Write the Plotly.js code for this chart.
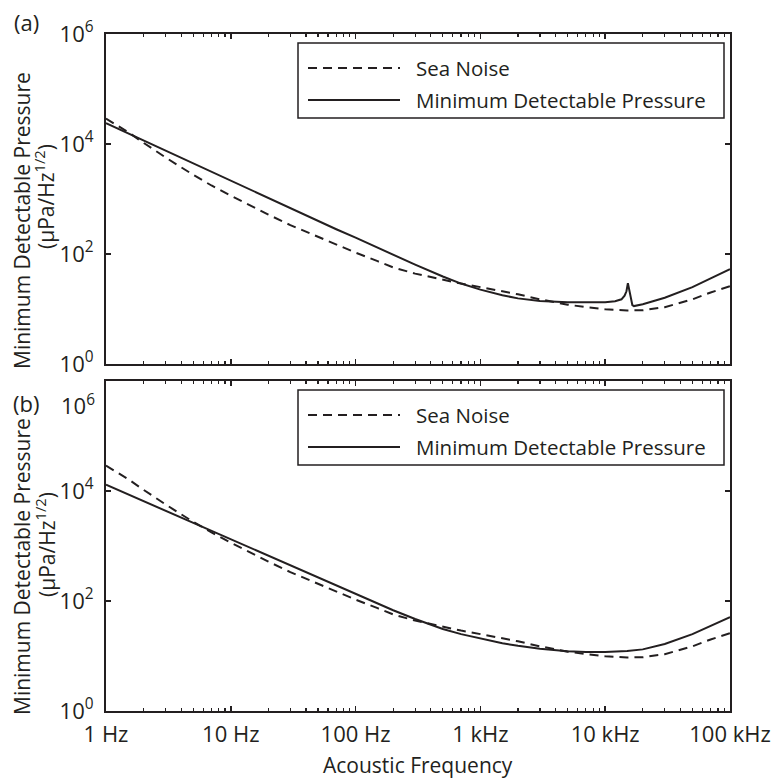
<!DOCTYPE html>
<html><head><meta charset="utf-8">
<script src="https://cdn.plot.ly/plotly-3.0.1.min.js"></script>
<style>html,body{margin:0;padding:0;background:#fff}</style>
</head><body><div id="chart" style="width:771px;height:778px"></div>
<script>
// ---- data ----
const freqB = [1, 1.5, 2, 3, 5, 7, 10, 15, 20, 30, 50, 70, 100, 150, 200, 300, 500, 700, 1000, 1500, 2000, 3000, 5000, 7000, 10000, 15000, 20000, 30000, 50000, 70000, 100000];
const seaNoise = [29000, 16500, 10500, 5700, 2750, 1760, 1150, 720, 520, 335, 205, 148, 106, 74, 57, 44, 34, 29, 25, 21, 18.5, 15, 12, 10.8, 9.9, 9.4, 9.5, 10.8, 15, 20, 26];
const mdpB = [13000, 8700, 6500, 4350, 2600, 1860, 1300, 870, 650, 435, 262, 188, 132, 89, 68, 47, 31, 25, 21, 17, 15.3, 13.5, 12.2, 11.8, 11.8, 12.3, 13.2, 16.5, 25, 35, 51];
const freqA = [1, 1.5, 2, 3, 5, 7, 10, 15, 20, 30, 50, 70, 100, 150, 200, 300, 500, 700, 1000, 1500, 2000, 3000, 5000, 7000, 10000, 12000, 13500, 14300, 14800, 15200, 15600, 16000, 16500, 17000, 18000, 20000, 30000, 50000, 70000, 100000];
const mdpA = [24000, 15700, 11600, 7550, 4400, 3100, 2150, 1410, 1040, 680, 400, 282, 198, 130, 96, 64, 39, 29, 22.5, 17.8, 15.6, 14, 13.2, 13.1, 13.3, 13.8, 15, 17.5, 21, 29.5, 22, 15, 11.8, 11.3, 11.5, 12.2, 16, 25, 36, 53];

const xTickVals = [1, 10, 100, 1000, 10000, 100000];
const xTickText = ['1 Hz', '10 Hz', '100 Hz', '1 kHz', '10 kHz', '100 kHz'];
const yTickValsA = [1, 100, 1e4, 1e6];
const yTickTextA = ['10<sup>0</sup>', '10<sup>2</sup>', '10<sup>4</sup>', '10<sup>6</sup>'];
const yTickValsB = [1, 100, 1e4];
const yTickTextB = ['10<sup>0</sup>', '10<sup>2</sup>', '10<sup>4</sup>'];
const yTopLabelB = '10<sup>6</sup>';
const seriesNames = ['Sea Noise', 'Minimum Detectable Pressure'];
const panelLabels = ['(a)', '(b)'];
const yTitleLines = ['Minimum Detectable Pressure', '(\u00b5Pa/Hz<sup>1/2</sup>)'];
const xTitle = 'Acoustic Frequency';

// ---- styling ----
const ink = '#231f20';
const FONT = 'Open Sans, Noto Sans, sans-serif';
const FS = 21;
const W = 771, H = 778, ML = 106, MR = 41, MT = 34, MB = 67;
const PW = W - ML - MR, PH = H - MT - MB;
const px = x => (x - ML) / PW;
const py = y => (H - MB - y) / PH;
const dashStyle = '9px,6px';

const traces = [
  {x: freqB, y: seaNoise, xaxis: 'x', yaxis: 'y', name: seriesNames[0], mode: 'lines', line: {color: ink, width: 2, dash: dashStyle}, showlegend: false},
  {x: freqA, y: mdpA, xaxis: 'x', yaxis: 'y', name: seriesNames[1], mode: 'lines', line: {color: ink, width: 2}, showlegend: false},
  {x: freqB, y: seaNoise, xaxis: 'x2', yaxis: 'y2', name: seriesNames[0], mode: 'lines', line: {color: ink, width: 2, dash: dashStyle}, showlegend: false},
  {x: freqB, y: mdpB, xaxis: 'x2', yaxis: 'y2', name: seriesNames[1], mode: 'lines', line: {color: ink, width: 2}, showlegend: false}
];

const yTopA = 34, yBotA = 364, yTopB = 381, yBotB = 711;
const xAxisBase = {
  type: 'log', range: [0, 5], showline: true, linecolor: ink, linewidth: 2, mirror: 'ticks',
  ticks: 'inside', ticklen: 5, tickwidth: 1.5, tickcolor: ink, showgrid: false, zeroline: false,
  tickmode: 'array', tickvals: xTickVals, ticktext: xTickText,
  minor: {ticks: 'inside', ticklen: 3, tickwidth: 1.2, tickcolor: ink, dtick: 'D1', showgrid: false},
  tickfont: {family: FONT, size: 22, color: ink}
};
const yAxisBase = {
  type: 'log', range: [0, 6], showline: true, linecolor: ink, linewidth: 2, mirror: 'ticks',
  ticks: 'inside', ticklen: 5, tickwidth: 1.5, tickcolor: ink, showgrid: false, zeroline: false,
  tickmode: 'array', tickfont: {family: FONT, size: 22, color: ink}, ticklabelstandoff: 6
};

const annFont = {family: FONT, size: FS, color: ink};
const tickLikeFont = {family: FONT, size: 22, color: ink};
const annotations = [
  {xref: 'paper', yref: 'paper', x: px(26), y: py(22), text: panelLabels[0], showarrow: false, xanchor: 'center', yanchor: 'middle', font: tickLikeFont},
  {xref: 'paper', yref: 'paper', x: px(26), y: py(403), text: panelLabels[1], showarrow: false, xanchor: 'center', yanchor: 'middle', font: tickLikeFont},
  {xref: 'paper', yref: 'paper', x: px(97), y: py(404), text: yTopLabelB, showarrow: false, xanchor: 'right', yanchor: 'middle', font: tickLikeFont},
  {xref: 'paper', yref: 'paper', x: px(22), y: py(221), text: yTitleLines[0], textangle: -90, showarrow: false, xanchor: 'center', yanchor: 'middle', font: annFont},
  {xref: 'paper', yref: 'paper', x: px(45), y: py(197), text: yTitleLines[1], textangle: -90, showarrow: false, xanchor: 'center', yanchor: 'middle', font: annFont},
  {xref: 'paper', yref: 'paper', x: px(22), y: py(567), text: yTitleLines[0], textangle: -90, showarrow: false, xanchor: 'center', yanchor: 'middle', font: annFont},
  {xref: 'paper', yref: 'paper', x: px(45), y: py(545), text: yTitleLines[1], textangle: -90, showarrow: false, xanchor: 'center', yanchor: 'middle', font: annFont},
  {xref: 'paper', yref: 'paper', x: 0.5, y: py(765), text: xTitle, showarrow: false, xanchor: 'center', yanchor: 'middle', font: annFont}
];

const shapes = [];
// manual legends, one per panel
function addLegend(top, bottom, row1, row2) {
  shapes.push({type: 'rect', xref: 'paper', yref: 'paper', x0: px(298), x1: px(724), y0: py(bottom), y1: py(top), line: {color: ink, width: 1.5}, fillcolor: '#ffffff', layer: 'above'});
  shapes.push({type: 'line', xref: 'paper', yref: 'paper', x0: px(308), x1: px(400), y0: py(row1), y1: py(row1), line: {color: ink, width: 2, dash: dashStyle}, layer: 'above'});
  shapes.push({type: 'line', xref: 'paper', yref: 'paper', x0: px(308), x1: px(400), y0: py(row2), y1: py(row2), line: {color: ink, width: 2}, layer: 'above'});
  annotations.push({xref: 'paper', yref: 'paper', x: px(414), y: py(row1), text: seriesNames[0], showarrow: false, xanchor: 'left', yanchor: 'middle', font: {family: FONT, size: 20.5, color: ink}});
  annotations.push({xref: 'paper', yref: 'paper', x: px(414), y: py(row2), text: seriesNames[1], showarrow: false, xanchor: 'left', yanchor: 'middle', font: {family: FONT, size: 20.5, color: ink}});
}
addLegend(43, 118, 68, 100);
addLegend(390, 465, 415, 447);

const layout = {
  width: W, height: H, margin: {l: ML, r: MR, t: MT, b: MB},
  paper_bgcolor: '#ffffff', plot_bgcolor: '#ffffff', showlegend: false,
  font: {family: FONT, size: FS, color: ink},
  xaxis: Object.assign({}, xAxisBase, {anchor: 'y', showticklabels: false, domain: [0, 1]}),
  yaxis: Object.assign({}, yAxisBase, {anchor: 'x', domain: [py(yBotA), py(yTopA)], tickvals: yTickValsA, ticktext: yTickTextA}),
  xaxis2: Object.assign({}, xAxisBase, {anchor: 'y2', showticklabels: true, domain: [0, 1], ticklabelstandoff: 3}),
  yaxis2: Object.assign({}, yAxisBase, {anchor: 'x2', domain: [py(yBotB), py(yTopB)], tickvals: yTickValsB, ticktext: yTickTextB}),
  annotations: annotations,
  shapes: shapes
};

Plotly.newPlot('chart', traces, layout, {displayModeBar: false, staticPlot: true});
</script></body></html>
